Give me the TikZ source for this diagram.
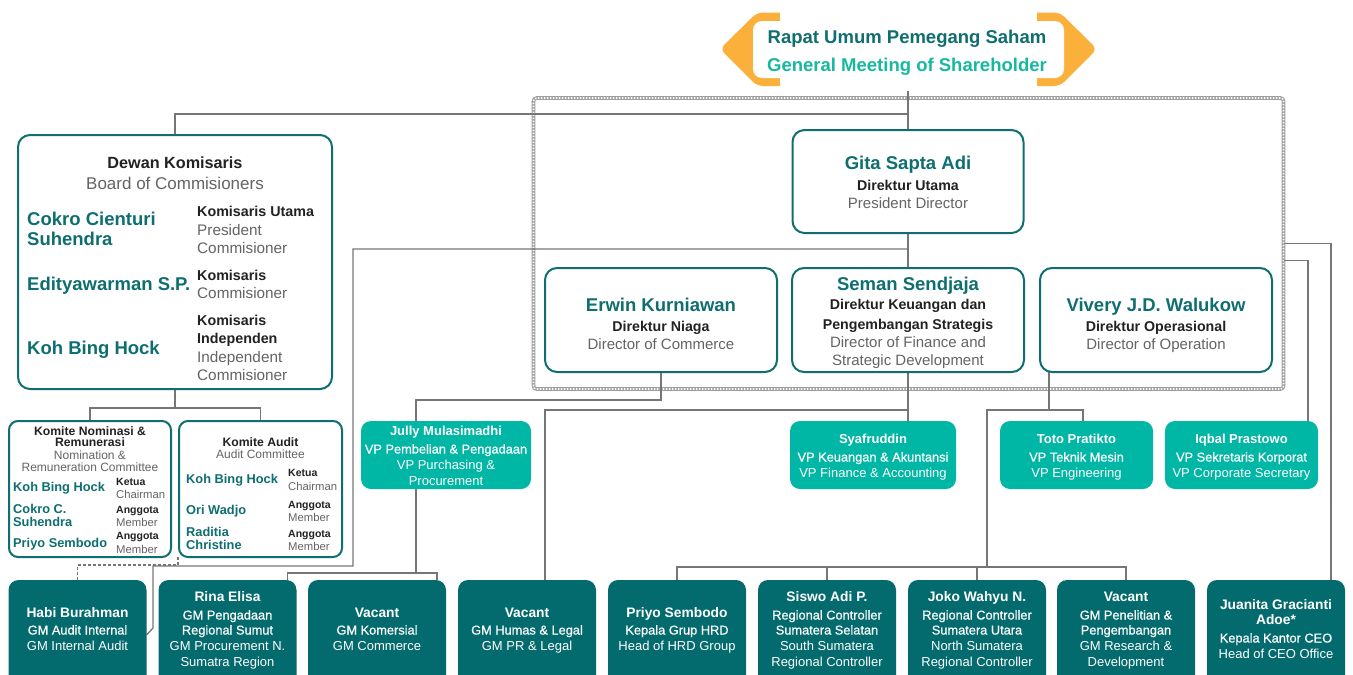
\documentclass[tikz,border=0pt]{standalone}
\usepackage{fontspec}
\setmainfont{Liberation Sans}
\newfontfamily\medfont{Liberation Sans}[FakeBold=0.6]
\definecolor{dteal}{RGB}{3,107,110}
\definecolor{lteal}{RGB}{0,182,164}
\definecolor{nteal}{RGB}{14,110,112}
\definecolor{gteal}{RGB}{22,185,160}
\definecolor{orng}{RGB}{250,176,59}
\definecolor{txtg}{RGB}{100,100,100}
\definecolor{txtk}{RGB}{34,34,34}
\definecolor{lineg}{RGB}{118,118,118}
\pgfdeclarelayer{bg}
\pgfsetlayers{bg,main}
\newcommand\myfs[1]{\fontsize{#1}{#1}\selectfont}
\newcommand\tline[5][]{\node[inner sep=0pt,anchor=base,#1] (#2) at (#3,#4) {#5};}
\begin{document}
\begin{tikzpicture}[x=1pt,y=-1pt,
  conn/.style={draw=lineg,line width=1.3pt},
  dashconn/.style={draw=lineg,line width=1.3pt,dash pattern=on 3pt off 2pt},
  wbox/.style={draw=nteal,line width=2pt,fill=white,rounded corners=12pt,inner sep=0pt,outer sep=0pt},
  cbox/.style={wbox,rounded corners=9pt},
  vbox/.style={fill=lteal,rounded corners=10pt,inner sep=0pt,outer sep=0pt},
  gbox/.style={fill=dteal,rounded corners=10pt,inner sep=0pt,outer sep=0pt},
  lft/.style={anchor=base west},
  rupsA/.style={font=\bfseries\myfs{18.5},text=nteal},
  rupsB/.style={font=\bfseries\myfs{18.5},text=gteal},
  bignm/.style={font=\bfseries\myfs{18.5},text=nteal},
  idk/.style={font=\bfseries\myfs{14.2},text=txtk},
  eng/.style={font=\myfs{15},text=txtg},
  bhead/.style={font=\bfseries\myfs{16.2},text=txtk},
  bsub/.style={font=\myfs{17},text=txtg},
  brole/.style={font=\bfseries\myfs{14.3},text=txtk},
  broleg/.style={font=\myfs{15.3},text=txtg},
  chead/.style={font=\bfseries\myfs{12.2},text=txtk},
  csub/.style={font=\myfs{12},text=txtg},
  cname/.style={font=\bfseries\myfs{12.8},text=nteal},
  crole/.style={font=\bfseries\myfs{10.5},text=txtk},
  croleg/.style={font=\myfs{11.3},text=txtg},
  vname/.style={font=\bfseries\myfs{13},text=white},
  vid/.style={font=\medfont\myfs{12.8},text=white},
  ven/.style={font=\myfs{13},text=white},
  gname/.style={font=\bfseries\myfs{13.8},text=white},
]
\useasboundingbox (0,0) rectangle (1353,675);
\clip (0,0) rectangle (1353,675);

% ---------- RUPS banner ----------
\fill[orng,rounded corners=6pt] (720,49) -- (757,12.5) -- (1060,12.5) -- (1097,49) -- (1060,86) -- (757,86) -- cycle;
\fill[white] (780,8) rectangle (1037,91);
\fill[white,rounded corners=9pt] (753,21) rectangle (1064,78);
\node[inner sep=0pt,outer sep=0pt,minimum width=377,minimum height=75] (rups) at (908,50) {};
\tline[rupsA]{rupsT1}{907}{43}{Rapat Umum Pemegang Saham}
\tline[rupsB]{rupsT2}{907}{71}{General Meeting of Shareholder}

% ---------- dotted frame ----------
\node[inner sep=0pt,outer sep=0pt,minimum width=750,minimum height=291] (dotbox) at (908.5,243.5) {};

% ---------- Board ----------
\node[wbox,minimum width=314,minimum height=254] (board) at (175,262) {};
\tline[bhead]{bT1}{175}{168}{Dewan Komisaris}
\tline[bsub]{bT2}{175}{189}{Board of Commisioners}
\tline[bignm,lft]{bN1}{27}{225.5}{Cokro Cienturi}
\tline[bignm,lft]{bN2}{27}{245.5}{Suhendra}
\tline[bignm,lft]{bN3}{27}{290.5}{Edityawarman S.P.}
\tline[bignm,lft]{bN4}{27}{354.5}{Koh Bing Hock}
\tline[brole,lft]{bR1}{197}{216}{Komisaris Utama}
\tline[broleg,lft]{bR2}{197}{235}{President}
\tline[broleg,lft]{bR3}{197}{253}{Commisioner}
\tline[brole,lft]{bR4}{197}{280}{Komisaris}
\tline[broleg,lft]{bR5}{197}{298}{Commisioner}
\tline[brole,lft]{bR6}{197}{325}{Komisaris}
\tline[brole,lft]{bR7}{197}{343}{Independen}
\tline[broleg,lft]{bR8}{197}{362}{Independent}
\tline[broleg,lft]{bR9}{197}{380}{Commisioner}

% ---------- Committees ----------
\node[cbox,minimum width=162,minimum height=136] (nom) at (90,489) {};
\tline[chead]{nT1}{90}{435}{Komite Nominasi \&}
\tline[chead]{nT2}{90}{446.5}{Remunerasi}
\tline[csub]{nT3}{90}{459}{Nomination \&}
\tline[csub]{nT4}{90}{471}{Remuneration Committee}
\tline[cname,lft]{nN1}{13}{491.5}{Koh Bing Hock}
\tline[cname,lft]{nN2}{13}{513.5}{Cokro C.}
\tline[cname,lft]{nN3}{13}{526.5}{Suhendra}
\tline[cname,lft]{nN4}{13}{547.5}{Priyo Sembodo}
\tline[crole,lft]{nR1}{116}{485}{Ketua}
\tline[croleg,lft]{nR2}{116}{498}{Chairman}
\tline[crole,lft]{nR3}{116}{513}{Anggota}
\tline[croleg,lft]{nR4}{116}{526}{Member}
\tline[crole,lft]{nR5}{116}{539}{Anggota}
\tline[croleg,lft]{nR6}{116}{553}{Member}

\node[cbox,minimum width=163,minimum height=136] (aud) at (260.5,489) {};
\tline[chead]{aT1}{260.5}{446}{Komite Audit}
\tline[csub]{aT2}{260.5}{458}{Audit Committee}
\tline[cname,lft]{aN1}{186}{483.5}{Koh Bing Hock}
\tline[cname,lft]{aN2}{186}{514.5}{Ori Wadjo}
\tline[cname,lft]{aN3}{186}{536.5}{Raditia}
\tline[cname,lft]{aN4}{186}{549.5}{Christine}
\tline[crole,lft]{aR1}{288}{476}{Ketua}
\tline[croleg,lft]{aR2}{288}{490}{Chairman}
\tline[crole,lft]{aR3}{288}{508}{Anggota}
\tline[croleg,lft]{aR4}{288}{521}{Member}
\tline[crole,lft]{aR5}{288}{537}{Anggota}
\tline[croleg,lft]{aR6}{288}{550}{Member}

% ---------- Directors ----------
\node[wbox,minimum width=231,minimum height=103] (gita) at (908,181.5) {};
\tline[bignm]{gT1}{908}{169}{Gita Sapta Adi}
\tline[idk]{gT2}{908}{190}{Direktur Utama}
\tline[eng]{gT3}{908}{208}{President Director}

\node[wbox,minimum width=232,minimum height=104] (erwin) at (661,320) {};
\tline[bignm]{eT1}{661}{311}{Erwin Kurniawan}
\tline[idk]{eT2}{661}{331}{Direktur Niaga}
\tline[eng]{eT3}{661}{349}{Director of Commerce}

\node[wbox,minimum width=232,minimum height=104] (seman) at (908,320) {};
\tline[bignm]{sT1}{908}{290}{Seman Sendjaja}
\tline[idk]{sT2}{908}{309}{Direktur Keuangan dan}
\tline[idk]{sT3}{908}{329}{Pengembangan Strategis}
\tline[eng]{sT4}{908}{347}{Director of Finance and}
\tline[eng]{sT5}{908}{365}{Strategic Development}

\node[wbox,minimum width=232,minimum height=104] (vivery) at (1156,320) {};
\tline[bignm]{vT1}{1156}{311}{Vivery J.D. Walukow}
\tline[idk]{vT2}{1156}{331}{Direktur Operasional}
\tline[eng]{vT3}{1156}{349}{Director of Operation}

% ---------- VPs ----------
\node[vbox,minimum width=170,minimum height=68] (jully) at (446,455) {};
\tline[vname]{jT1}{446}{435}{Jully Mulasimadhi}
\tline[vid]{jT2}{446}{453.5}{VP Pembelian \& Pengadaan}
\tline[ven]{jT3}{446}{469.5}{VP Purchasing \&}
\tline[ven]{jT4}{446}{485.5}{Procurement}

\node[vbox,minimum width=166,minimum height=68] (syaf) at (873,455) {};
\tline[vname]{yT1}{873}{443}{Syafruddin}
\tline[vid]{yT2}{873}{461.5}{VP Keuangan \& Akuntansi}
\tline[ven]{yT3}{873}{477.5}{VP Finance \& Accounting}

\node[vbox,minimum width=153,minimum height=68] (toto) at (1076.5,455) {};
\tline[vname]{tT1}{1076.5}{443}{Toto Pratikto}
\tline[vid]{tT2}{1076.5}{461.5}{VP Teknik Mesin}
\tline[ven]{tT3}{1076.5}{477.5}{VP Engineering}

\node[vbox,minimum width=153,minimum height=68] (iqbal) at (1241.5,455) {};
\tline[vname]{iT1}{1241.5}{443}{Iqbal Prastowo}
\tline[vid]{iT2}{1241.5}{461.5}{VP Sekretaris Korporat}
\tline[ven]{iT3}{1241.5}{477.5}{VP Corporate Secretary}

% ---------- GMs ----------
\node[gbox,minimum width=138,minimum height=120] (habi) at (77.5,640) {};
\tline[gname]{hT1}{77.5}{617}{Habi Burahman}
\tline[vid]{hT2}{77.5}{634.5}{GM Audit Internal}
\tline[ven]{hT3}{77.5}{650.5}{GM Internal Audit}

\node[gbox,minimum width=138,minimum height=120] (rina) at (227.5,640) {};
\tline[gname]{rT1}{227.5}{601}{Rina Elisa}
\tline[vid]{rT2}{227.5}{619.5}{GM Pengadaan}
\tline[vid]{rT3}{227.5}{634.5}{Regional Sumut}
\tline[ven]{rT4}{227.5}{650.5}{GM Procurement N.}
\tline[ven]{rT5}{227.5}{666.5}{Sumatra Region}

\node[gbox,minimum width=138,minimum height=120] (komr) at (377,640) {};
\tline[gname]{kT1}{377}{617}{Vacant}
\tline[vid]{kT2}{377}{634.5}{GM Komersial}
\tline[ven]{kT3}{377}{650.5}{GM Commerce}

\node[gbox,minimum width=138,minimum height=120] (humas) at (527,640) {};
\tline[gname]{uT1}{527}{617}{Vacant}
\tline[vid]{uT2}{527}{634.5}{GM Humas \& Legal}
\tline[ven]{uT3}{527}{650.5}{GM PR \& Legal}

\node[gbox,minimum width=138,minimum height=120] (priyo) at (677,640) {};
\tline[gname]{pT1}{677}{617}{Priyo Sembodo}
\tline[vid]{pT2}{677}{634.5}{Kepala Grup HRD}
\tline[ven]{pT3}{677}{650.5}{Head of HRD Group}

\node[gbox,minimum width=138,minimum height=120] (siswo) at (827,640) {};
\tline[gname]{wT1}{827}{601}{Siswo Adi P.}
\tline[vid]{wT2}{827}{619.5}{Regional Controller}
\tline[vid]{wT3}{827}{634.5}{Sumatera Selatan}
\tline[ven]{wT4}{827}{650.5}{South Sumatera}
\tline[ven]{wT5}{827}{666.5}{Regional Controller}

\node[gbox,minimum width=138,minimum height=120] (joko) at (977,640) {};
\tline[gname]{oT1}{977}{601}{Joko Wahyu N.}
\tline[vid]{oT2}{977}{619.5}{Regional Controller}
\tline[vid]{oT3}{977}{634.5}{Sumatera Utara}
\tline[ven]{oT4}{977}{650.5}{North Sumatera}
\tline[ven]{oT5}{977}{666.5}{Regional Controller}

\node[gbox,minimum width=138,minimum height=120] (resv) at (1126,640) {};
\tline[gname]{dT1}{1126}{601}{Vacant}
\tline[vid]{dT2}{1126}{619.5}{GM Penelitian \&}
\tline[vid]{dT3}{1126}{634.5}{Pengembangan}
\tline[ven]{dT4}{1126}{650.5}{GM Research \&}
\tline[ven]{dT5}{1126}{666.5}{Development}

\node[gbox,minimum width=138,minimum height=120] (juan) at (1276,640) {};
\tline[gname]{cT1}{1276}{609}{Juanita Gracianti}
\tline[gname]{cT2}{1276}{624}{Adoe*}
\tline[vid]{cT3}{1276}{642.5}{Kepala Kantor CEO}
\tline[ven]{cT4}{1276}{658.5}{Head of CEO Office}

% ---------- background: frame and connectors ----------
\begin{pgfonlayer}{bg}
\draw[gray!75,line width=3.6pt,rounded corners=3pt] (dotbox.south west) rectangle (dotbox.north east);
\draw[white,line width=1.6pt,dash pattern=on 1.5pt off 1.5pt,rounded corners=3pt] (dotbox.south west) rectangle (dotbox.north east);

\draw[conn] (rups.south) -- (gita.north);
\draw[conn] (gita.north) ++(0,-16) -| (board.north);
\draw[conn] (gita.south) -- (seman.north);
\draw[conn] (gita.south) ++(0,16) -| (353,566) -| (153,628) -- ([yshift=5pt]habi.east);

\draw[conn] (board.south) -- ++(0,19) coordinate (bj);
\draw[conn] (nom.north) |- (bj) -| (aud.north);
\draw[dashconn] ([xshift=-1pt]aud.south west) -- ++(0,8) -| (habi.north);

\draw[conn] (erwin.south) -- ++(0,28) -| ([xshift=-30pt]jully.north);
\draw[conn] ([xshift=-30pt]jully.south) -- ++(0,84) coordinate (jj);
\draw[conn] ([xshift=60pt]rina.north) |- (jj) -| ([xshift=60pt]komr.north);

\draw[conn] (seman.south) -- (seman.south |- syaf.north);
\draw[conn] (seman.south) ++(0,38) -| ([xshift=18pt]humas.north);

\draw[conn] ([xshift=9pt]vivery.south west) -- ++(0,38) coordinate (vj);
\draw[conn] ([xshift=6.5pt]toto.north) |- (vj) -- ++(-62,0) -- ++(0,157);
\draw[conn] (priyo.north) -- ++(0,-13) -| (resv.north);
\draw[conn] (siswo.north) -- ++(0,-13);
\draw[conn] (joko.north) -- ++(0,-13);

\draw[conn] (dotbox.east) -| ([xshift=55pt]juan.north);
\draw[conn] ([yshift=-17pt]dotbox.east) -| ([xshift=66.5pt]iqbal.north);
\end{pgfonlayer}
\end{tikzpicture}
\end{document}
